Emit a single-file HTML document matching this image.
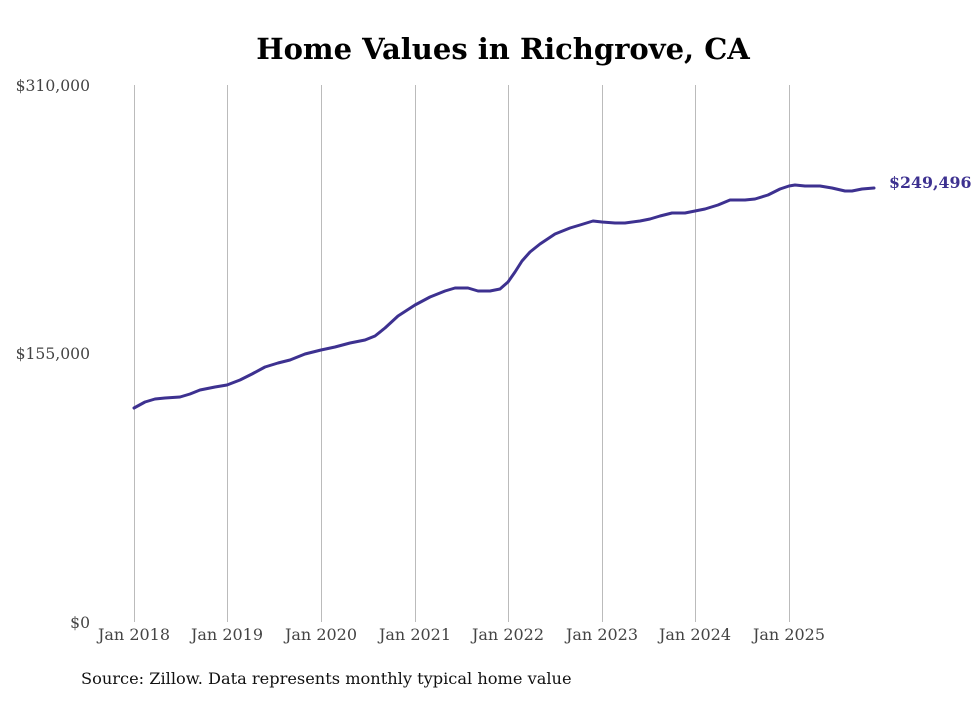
<!DOCTYPE html>
<html><head><meta charset="utf-8"><style>
body{margin:0;background:#fff;}
svg text{font-family:"DejaVu Serif","Liberation Serif",serif;}
</style></head><body>
<svg width="980" height="699" viewBox="0 0 980 699" xmlns="http://www.w3.org/2000/svg">
<rect width="980" height="699" fill="#fff"/>
<text x="503" y="59" text-anchor="middle" font-size="29" font-weight="bold" fill="#000">Home Values in Richgrove, CA</text>
<g stroke="#bbb" stroke-width="1">
<line x1="134.5" y1="85" x2="134.5" y2="622"/>
<line x1="227.5" y1="85" x2="227.5" y2="622"/>
<line x1="321.5" y1="85" x2="321.5" y2="622"/>
<line x1="415.5" y1="85" x2="415.5" y2="622"/>
<line x1="508.5" y1="85" x2="508.5" y2="622"/>
<line x1="602.5" y1="85" x2="602.5" y2="622"/>
<line x1="695.5" y1="85" x2="695.5" y2="622"/>
<line x1="789.5" y1="85" x2="789.5" y2="622"/>
</g>
<g font-size="15.6" fill="#444">
<text x="90" y="91" text-anchor="end">$310,000</text>
<text x="90" y="359" text-anchor="end">$155,000</text>
<text x="90" y="628" text-anchor="end">$0</text>
<g text-anchor="middle" font-size="16">
<text x="134" y="640">Jan 2018</text>
<text x="227" y="640">Jan 2019</text>
<text x="321" y="640">Jan 2020</text>
<text x="415" y="640">Jan 2021</text>
<text x="508" y="640">Jan 2022</text>
<text x="602" y="640">Jan 2023</text>
<text x="695" y="640">Jan 2024</text>
<text x="789" y="640">Jan 2025</text>
</g>
</g>
<polyline fill="none" stroke="#3d3190" stroke-width="3" stroke-linejoin="round" stroke-linecap="round" points="134,408 145,402 155,399 165,398 180,397 190,394 200,390 215,387 227,385 240,380 252,374 265,367 278,363 290,360 305,354 321,350 335,347 350,343 365,340 375,336 385,328 398,316 415,305 430,297 445,291 455,288 468,288 478,291 490,291 500,289 508,282 515,272 522,261 530,252 540,244 555,234 570,228 580,225 593,221 602,222 615,223 625,223 640,221 650,219 660,216 672,213 685,213 695,211 705,209 718,205 730,200 745,200 755,199 768,195 780,189 789,186 795,185 805,186 820,186 832,188 845,191 852,191 862,189 874,188"/>
<text x="889" y="188" font-size="15.8" font-weight="bold" fill="#3d3190">$249,496</text>
<text x="81" y="684" font-size="16.2" fill="#111">Source: Zillow. Data represents monthly typical home value</text>
</svg>
</body></html>
